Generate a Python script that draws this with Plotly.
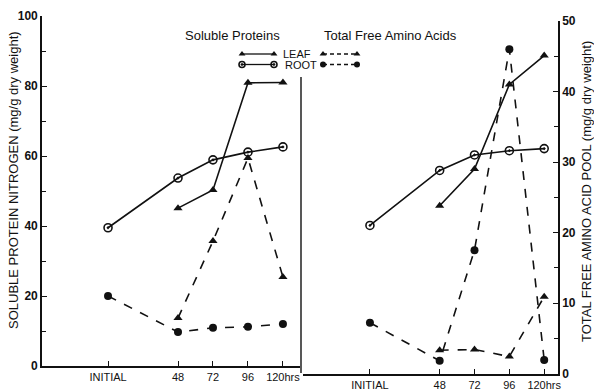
import plotly.graph_objects as go

# ---------------- data ----------------
hours = [0, 48, 72, 96, 120]
tick_text = ["INITIAL", "48", "72", "96", "120hrs"]

# left panel (left axis, mg/g dry weight)
left_root_protein = [39.5, 53.7, 58.9, 61.1, 62.6]
left_leaf_protein = [None, 45.1, 50.3, 80.9, 81.0]
left_leaf_faa = [None, 13.7, 35.7, 59.4, 25.4]
left_root_faa = [20.0, 9.7, 10.9, 11.2, 12.0]

# right panel (right axis, mg/g dry weight)
right_root_protein = [21.0, 28.8, 31.0, 31.6, 31.9]
right_leaf_protein = [None, 23.8, 29.0, 41.0, 45.1]
right_root_faa = [7.2, 1.8, 17.5, 46.0, 1.9]
right_leaf_faa = [None, 3.3, 3.4, 2.4, 10.9]

left_yticks = [0, 20, 40, 60, 80, 100]
left_yminor = [10, 30, 50, 70, 90]
right_yticks = [0, 10, 20, 30, 40, 50]
right_yminor = [5, 15, 25, 35, 45]

# ---------------- layout helpers ----------------
W, H = 594, 389
INK = "#111111"
FONT = "Liberation Sans"


def px(x):
    return x / W


def py(y):
    return 1 - y / H


STY = {
    "root_protein": dict(line=dict(color=INK, width=1.6),
                         marker=dict(symbol="circle-open-dot", size=8, color=INK, line=dict(width=1.6, color=INK))),
    "leaf_protein": dict(line=dict(color=INK, width=1.6),
                         marker=dict(symbol="triangle-up", size=8, color=INK)),
    "leaf_faa": dict(line=dict(color=INK, width=1.6, dash="dash"),
                     marker=dict(symbol="triangle-up", size=8, color=INK)),
    "root_faa": dict(line=dict(color=INK, width=1.6, dash="dash"),
                     marker=dict(symbol="circle", size=8, color=INK)),
}

fig = go.Figure()

for vals, key in [(left_root_protein, "root_protein"), (left_leaf_protein, "leaf_protein"),
                  (left_leaf_faa, "leaf_faa"), (left_root_faa, "root_faa")]:
    fig.add_trace(go.Scatter(x=hours, y=vals, xaxis="x", yaxis="y", mode="lines+markers",
                             connectgaps=False, showlegend=False, **STY[key]))

for vals, key in [(right_root_protein, "root_protein"), (right_leaf_protein, "leaf_protein"),
                  (right_leaf_faa, "leaf_faa"), (right_root_faa, "root_faa")]:
    fig.add_trace(go.Scatter(x=hours, y=vals, xaxis="x2", yaxis="y2", mode="lines+markers",
                             connectgaps=False, showlegend=False, **STY[key]))

# legend keys drawn on a pixel overlay axis
leg_rows = [
    (54, 242, 274, "leaf_protein"), (54, 323, 357, "leaf_faa"),
    (64.5, 242, 274, "root_protein"), (64.5, 323, 357, "root_faa"),
]
for yy, x0, x1, key in leg_rows:
    base = STY[key]
    mk = dict(base["marker"])
    mk["size"] = 6
    ln = dict(base["line"])
    ln["width"] = 1.3
    if "dash" in ln:
        ln["dash"] = "4px,3px"
    fig.add_trace(go.Scatter(x=[x0, x1], y=[yy, yy], xaxis="x3", yaxis="y3", mode="lines+markers",
                             line=ln, marker=mk, showlegend=False, hoverinfo="skip"))

axis_common = dict(showline=True, linecolor=INK, linewidth=1.6, showgrid=False, zeroline=False,
                   ticks="inside", tickcolor=INK, tickwidth=1.4, ticklen=5)

yfont = dict(family=FONT, size=12, color=INK, weight="bold")
xfont = dict(family=FONT, size=11, color=INK)

fig.update_layout(
    template="none",
    width=W, height=H,
    margin=dict(l=0, r=0, t=0, b=0),
    paper_bgcolor="white", plot_bgcolor="rgba(0,0,0,0)",
    font=dict(family=FONT, color=INK),
    xaxis=dict(domain=[px(42), px(300)], range=[-45.3, 131.7], anchor="y",
               tickvals=hours, ticktext=tick_text, tickfont=xfont, **axis_common),
    yaxis=dict(domain=[py(366), py(16)], range=[0, 100], anchor="x",
               tickvals=left_yticks, tickfont=yfont,
               minor=dict(tickvals=left_yminor, ticks="inside", ticklen=4,
                          tickcolor=INK, tickwidth=1.3, showgrid=False),
               **axis_common),
    xaxis2=dict(domain=[px(303), px(558)], range=[-46.1, 129.5], anchor="y2",
                tickvals=hours, ticktext=tick_text, tickfont=xfont, **axis_common),
    yaxis2=dict(domain=[py(373.5), py(21)], range=[0, 50], anchor="x2", side="right",
                tickvals=right_yticks, tickfont=yfont,
                minor=dict(tickvals=right_yminor, ticks="inside", ticklen=4,
                           tickcolor=INK, tickwidth=1.3, showgrid=False),
                **axis_common),
    xaxis3=dict(domain=[0, 1], range=[0, W], visible=False, anchor="y3", fixedrange=True),
    yaxis3=dict(domain=[0, 1], range=[H, 0], visible=False, anchor="x3", fixedrange=True),
)

# divider line between panels
fig.add_shape(type="line", xref="paper", yref="paper", x0=px(301), x1=px(301),
              y0=py(373), y1=py(77), line=dict(color=INK, width=1.4))

ann = dict(xref="paper", yref="paper", showarrow=False)
f_title = dict(family=FONT, size=13, color=INK)
f_leg = dict(family=FONT, size=13, color=INK)
f_lab = dict(family=FONT, size=11, color=INK)
fig.add_annotation(text="SOLUBLE PROTEIN NITROGEN (mg/g dry weight)", x=px(13), y=py(180),
                   textangle=-90, xanchor="center", yanchor="middle", font=f_title, **ann)
fig.add_annotation(text="TOTAL FREE AMINO ACID POOL (mg/g dry weight)", x=px(586), y=py(192),
                   textangle=-90, xanchor="center", yanchor="middle", font=f_title, **ann)
fig.add_annotation(text="Soluble Proteins", x=px(183), y=py(35), xanchor="left", yanchor="middle",
                   font=f_leg, **ann)
fig.add_annotation(text="Total Free Amino Acids", x=px(322), y=py(35), xanchor="left", yanchor="middle",
                   font=f_leg, **ann)
fig.add_annotation(text="LEAF", x=px(281), y=py(54), xanchor="left", yanchor="middle", font=f_lab, **ann)
fig.add_annotation(text="ROOT", x=px(283), y=py(65), xanchor="left", yanchor="middle", font=f_lab, **ann)

fig.write_html("out.html", config={"displayModeBar": False},
               post_script="document.body.style.margin='0';document.body.style.overflow='hidden';")
